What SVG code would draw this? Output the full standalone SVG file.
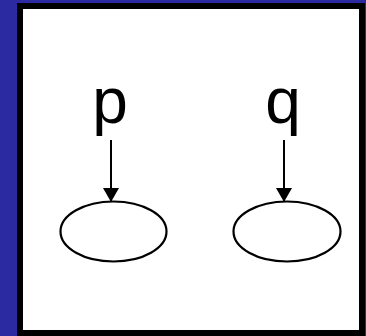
<svg xmlns="http://www.w3.org/2000/svg" width="366" height="336" viewBox="0 0 366 336">
<style>
.lbl{font-family:"Liberation Sans",Arial,sans-serif;font-size:64px;fill:#000;text-anchor:middle}
.node{fill:#fff;stroke:#000;stroke-width:2.2}
.edge{stroke:#000;stroke-width:2;fill:none;marker-end:url(#ah)}
</style>
<defs>
<marker id="ah" viewBox="0 0 14 16" refX="13" refY="8" markerWidth="14" markerHeight="16" markerUnits="userSpaceOnUse" orient="auto">
<path d="M0,0 L14,8 L0,16 Z" fill="#000"/>
</marker>
</defs>
<rect x="0" y="0" width="366" height="336" fill="#2C2AA0"/>
<rect x="20" y="6" width="342" height="327" fill="#fff" stroke="#000" stroke-width="6"/>
<g id="label-p"><text class="lbl" x="110" y="123">p</text></g>
<g id="label-q"><text class="lbl" x="283" y="123">q</text></g>
<g id="node-p"><ellipse class="node" cx="113.5" cy="231.5" rx="53" ry="30"/></g>
<g id="node-q"><ellipse class="node" cx="287" cy="231.5" rx="53.5" ry="30"/></g>
<g id="connectors">
<line class="edge" x1="111" y1="140" x2="111" y2="201"/>
<line class="edge" x1="284" y1="140" x2="284" y2="201"/>
</g>
</svg>
